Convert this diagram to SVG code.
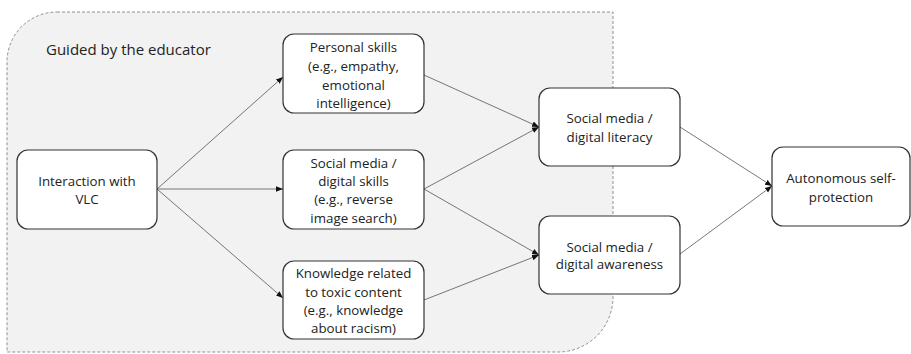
<svg xmlns="http://www.w3.org/2000/svg" width="911" height="354" viewBox="0 0 911 354">
<style>
.node rect{fill:#fff;stroke:#333;stroke-width:1.2}
.node text,.lbl{font-family:"Open Sans","Liberation Sans",sans-serif;font-size:13.3px;fill:#222;text-anchor:middle}
.lbl{font-size:15px;text-anchor:start}
.conn line{stroke:#555;stroke-width:0.8;marker-end:url(#ah)}
</style>
<defs>
<marker id="ah" viewBox="0 0 10 10" refX="10" refY="5" markerWidth="7" markerHeight="7" markerUnits="userSpaceOnUse" orient="auto">
<path d="M0,1 L10,5 L0,9 z" fill="#111"/>
</marker>
</defs>
<g id="region">
<path d="M57,12 H613 V297 A55,55 0 0 1 558,352 H7 V62 A50,50 0 0 1 57,12 Z" fill="#f2f2f2" stroke="#777" stroke-width="0.8" stroke-dasharray="3,2"/>
<text class="lbl" x="46" y="55">Guided by the educator</text>
</g>
<g id="connectors" class="conn">
<line x1="157" y1="189" x2="283" y2="77"/>
<line x1="157" y1="189" x2="283" y2="189"/>
<line x1="157" y1="189" x2="283" y2="298"/>
<line x1="424" y1="75" x2="539" y2="127"/>
<line x1="424" y1="189" x2="539" y2="127"/>
<line x1="424" y1="189" x2="539" y2="255"/>
<line x1="424" y1="300" x2="539" y2="255"/>
<line x1="680" y1="127" x2="772" y2="186"/>
<line x1="680" y1="254" x2="772" y2="186"/>
</g>
<g id="n-interaction" class="node">
<rect x="17" y="150" width="140" height="79" rx="11"/>
<text x="87" y="186">Interaction with</text>
<text x="87" y="204">VLC</text>
</g>
<g id="n-personal" class="node">
<rect x="283" y="34" width="141" height="79" rx="11"/>
<text x="353.5" y="52">Personal skills</text>
<text x="353.5" y="71">(e.g., empathy,</text>
<text x="353.5" y="90">emotional</text>
<text x="353.5" y="108">intelligence)</text>
</g>
<g id="n-digital-skills" class="node">
<rect x="283" y="150" width="141" height="79" rx="11"/>
<text x="353.5" y="168">Social media /</text>
<text x="353.5" y="186">digital skills</text>
<text x="353.5" y="204">(e.g., reverse</text>
<text x="353.5" y="223">image search)</text>
</g>
<g id="n-knowledge" class="node">
<rect x="283" y="261" width="141" height="78" rx="11"/>
<text x="353.5" y="278">Knowledge related</text>
<text x="353.5" y="297">to toxic content</text>
<text x="353.5" y="315">(e.g., knowledge</text>
<text x="353.5" y="333">about racism)</text>
</g>
<g id="n-literacy" class="node">
<rect x="539" y="88" width="141" height="78" rx="11"/>
<text x="609.5" y="123">Social media /</text>
<text x="609.5" y="142">digital literacy</text>
</g>
<g id="n-awareness" class="node">
<rect x="539" y="216" width="141" height="78" rx="11"/>
<text x="609.5" y="252">Social media /</text>
<text x="609.5" y="269">digital awareness</text>
</g>
<g id="n-autonomous" class="node">
<rect x="772" y="147" width="138" height="79" rx="11"/>
<text x="841" y="183">Autonomous self-</text>
<text x="841" y="202">protection</text>
</g>
</svg>
